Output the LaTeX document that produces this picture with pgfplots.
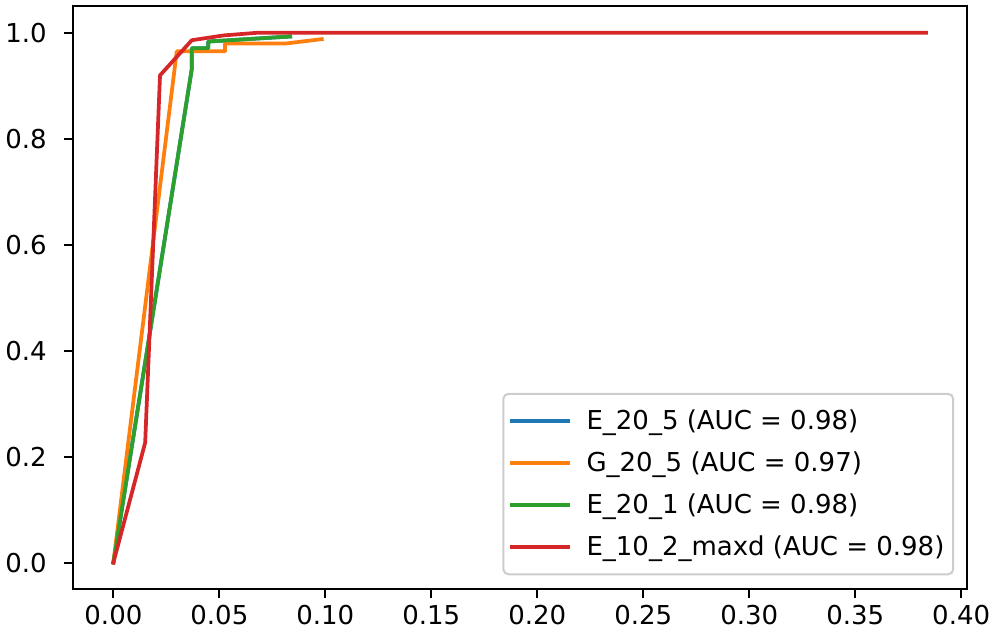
\documentclass[border=0pt]{standalone}
\usepackage{fontspec}
\setmainfont{DejaVu Sans}
\usepackage{pgfplots}
\pgfplotsset{compat=1.18}

\definecolor{tabblue}{HTML}{1F77B4}
\definecolor{taborange}{HTML}{FF7F0E}
\definecolor{tabgreen}{HTML}{2CA02C}
\definecolor{tabred}{HTML}{D62728}

\begin{document}
\begin{tikzpicture}
\begin{axis}[
    name=ax,
    width=357.6pt, height=233.1pt, scale only axis,
    xmin=-0.0192, xmax=0.4026,
    ymin=-0.05, ymax=1.05,
    xtick={0,0.05,0.1,0.15,0.2,0.25,0.3,0.35,0.4},
    ytick={0,0.2,0.4,0.6,0.8,1.0},
    scaled ticks=false,
    /pgf/number format/assume math mode=true,
    tick pos=left,
    tick align=outside,
    major tick length=3.5pt,
    every tick/.style={black, line width=0.8pt},
    axis line style={line width=0.8pt},
    ticklabel style={font=\fontsize{10.4}{12.5}\selectfont},
    xticklabel style={inner sep=0pt, yshift=-2.6pt,
        /pgf/number format/fixed, /pgf/number format/fixed zerofill, /pgf/number format/precision=2},
    yticklabel style={inner sep=0pt, xshift=-6.7pt,
        /pgf/number format/fixed, /pgf/number format/fixed zerofill, /pgf/number format/precision=1},
    legend style={
        at={(1,0)}, anchor=south east, xshift=-5pt, yshift=5.5pt,
        draw=black!20, line width=0.8pt, rounded corners=2pt,
        fill=white, fill opacity=0.8, text opacity=1,
        inner xsep=2.5pt, inner ysep=5.2pt, row sep=5.4pt,
        font=\fontsize{10.4}{12.5}\selectfont,
        nodes={inner sep=1pt},
    },
    legend cell align=left,
    legend image code/.code={
        \draw[#1, line width=1.5pt, line cap=rect] (0pt,0pt) -- (22.5pt,0pt);
        \path[draw=none] (0pt,0pt) -- (29pt,0pt);
    },
    every axis plot/.append style={line width=1.5pt, line join=round, line cap=rect},
]

% E_20_5 (hidden under the others)
\addplot[color=tabblue] coordinates {
    (0,0) (0.0370,0.932) (0.0370,0.971) (0.0448,0.971) (0.0448,0.9835) (0.0834,0.993)
};
\addlegendentry{E\_20\_5 (AUC = 0.98)}

% G_20_5
\addplot[color=taborange] coordinates {
    (0,0) (0.0299,0.965) (0.0527,0.965) (0.0527,0.980) (0.0818,0.980) (0.0983,0.988)
};
\addlegendentry{G\_20\_5 (AUC = 0.97)}

% E_20_1
\addplot[color=tabgreen] coordinates {
    (0,0) (0.0370,0.932) (0.0370,0.971) (0.0448,0.971) (0.0448,0.9835) (0.0834,0.993)
};
\addlegendentry{E\_20\_1 (AUC = 0.98)}

% E_10_2_maxd
\addplot[color=tabred] coordinates {
    (0,0) (0.0150,0.2265) (0.0220,0.9197) (0.0370,0.986) (0.0520,0.995) (0.0678,1.0) (0.3834,1.0)
};
\addlegendentry{E\_10\_2\_maxd (AUC = 0.98)}

\end{axis}
\pgfresetboundingbox
\path[use as bounding box] ([xshift=-29.08pt, yshift=-18.8pt]ax.south west) rectangle ([xshift=10.12pt, yshift=2.52pt]ax.north east);
\end{tikzpicture}
\end{document}
